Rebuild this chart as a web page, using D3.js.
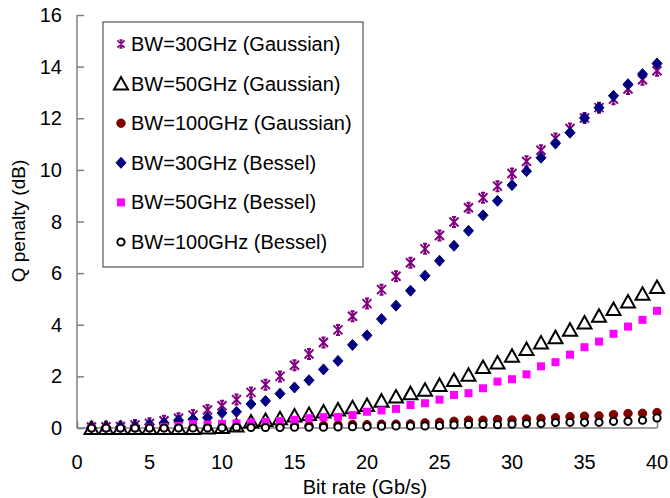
<!DOCTYPE html>
<html>
<head>
<meta charset="utf-8">
<script src="https://cdn.jsdelivr.net/npm/d3@7"></script>
<style>
  body { margin: 0; background: #fff; }
  text { font-family: Arial, "Liberation Sans", sans-serif; fill: #000; }
</style>
</head>
<body>
<svg id="chart" width="670" height="498"></svg>
<script>
// Bit rate values (Gb/s)
const bitRates = d3.range(1, 41);

// Q penalty (dB)
const gauss30 = [0.04, 0.05, 0.06, 0.12, 0.18, 0.28, 0.38, 0.5, 0.7, 0.86,
  1.1, 1.38, 1.68, 2.0, 2.43, 2.87, 3.31, 3.8, 4.33, 4.82,
  5.36, 5.88, 6.4, 6.94, 7.46, 7.98, 8.53, 8.92, 9.37, 9.86,
  10.33, 10.76, 11.22, 11.6, 12.01, 12.41, 12.74, 13.13, 13.49, 13.84];
const gauss50 = [0, 0, 0, 0, 0, 0, 0, 0, 0.02, 0.04,
  0.1, 0.25, 0.31, 0.38, 0.48, 0.54, 0.64, 0.72, 0.8, 0.89,
  1.06, 1.22, 1.35, 1.48, 1.67, 1.86, 2.06, 2.36, 2.54, 2.8,
  3.06, 3.31, 3.52, 3.81, 4.09, 4.35, 4.61, 4.9, 5.2, 5.46];
const gauss100 = [0, 0, 0, 0, 0, 0.01, 0.01, 0.02, 0.02, 0.03,
  0.04, 0.05, 0.06, 0.07, 0.08, 0.09, 0.1, 0.12, 0.14, 0.13,
  0.15, 0.15, 0.16, 0.2, 0.22, 0.26, 0.3, 0.3, 0.33, 0.31,
  0.35, 0.37, 0.4, 0.44, 0.46, 0.47, 0.52, 0.56, 0.57, 0.6];
const bessel30 = [0.02, 0.03, 0.05, 0.08, 0.14, 0.2, 0.3, 0.34, 0.4, 0.58,
  0.63, 0.93, 1.05, 1.33, 1.57, 1.85, 2.27, 2.6, 3.22, 3.59,
  4.22, 4.74, 5.32, 5.9, 6.48, 7.06, 7.64, 8.24, 8.8, 9.41,
  9.95, 10.47, 11.02, 11.44, 12.01, 12.41, 12.87, 13.32, 13.71, 14.12];
const bessel50 = [0, 0, 0, 0.01, 0.02, 0.04, 0.08, 0.15, 0.13, 0.16,
  0.18, 0.21, 0.23, 0.27, 0.32, 0.38, 0.42, 0.43, 0.5, 0.63,
  0.68, 0.74, 0.89, 0.96, 1.1, 1.28, 1.35, 1.54, 1.8, 1.89,
  2.08, 2.39, 2.55, 2.84, 3.13, 3.35, 3.65, 3.93, 4.19, 4.54];
const bessel100 = [0, 0, 0, 0, 0, 0, 0, 0, 0, 0.01,
  0.03, 0.02, 0.02, 0.02, 0.03, 0.03, 0.03, 0.04, 0.05, 0.05,
  0.07, 0.08, 0.08, 0.08, 0.09, 0.12, 0.14, 0.14, 0.13, 0.15,
  0.17, 0.17, 0.21, 0.22, 0.22, 0.22, 0.26, 0.26, 0.3, 0.39];

const seriesNames = [
  "BW=30GHz (Gaussian)", "BW=50GHz (Gaussian)", "BW=100GHz (Gaussian)",
  "BW=30GHz (Bessel)", "BW=50GHz (Bessel)", "BW=100GHz (Bessel)"
];
const xTicks = [0, 5, 10, 15, 20, 25, 30, 35, 40];
const yTicks = [0, 2, 4, 6, 8, 10, 12, 14, 16];

const svg = d3.select("#chart");
const margin = { top: 15, left: 77 };
const width = 580;
const height = 413;

const x = d3.scaleLinear().domain([0, 40]).range([margin.left, margin.left + width]);
const y = d3.scaleLinear().domain([0, 16]).range([margin.top + height, margin.top]);

// marker shapes (centred on 0,0)
const markers = {
  star: "M-4.5,-4.5L4.5,4.5M-4.5,4.5L4.5,-4.5M0,-5L0,5M-2,-5L2,-5M-2,5L2,5",
  triangle: "M0,-6.5L7,6L-7,6Z",
  diamond: "M0,-5.5L5,0L0,5.5L-5,0Z",
  square: "M-4,-4L4,-4L4,4L-4,4Z"
};

const series = [
  { name: seriesNames[0], values: gauss30, shape: "star", fill: "none", stroke: "#800080", sw: 2 },
  { name: seriesNames[1], values: gauss50, shape: "triangle", fill: "#fff", stroke: "#000", sw: 2 },
  { name: seriesNames[2], values: gauss100, shape: "circle", r: 4.2, fill: "#800000", stroke: "#800000", sw: 1 },
  { name: seriesNames[3], values: bessel30, shape: "diamond", fill: "#000080", stroke: "#000080", sw: 1 },
  { name: seriesNames[4], values: bessel50, shape: "square", fill: "#ff00ff", stroke: "none", sw: 0 },
  { name: seriesNames[5], values: bessel100, shape: "circle", r: 3.6, fill: "#fff", stroke: "#000", sw: 2 }
];

function drawMarker(g, s) {
  if (s.shape === "circle") {
    g.append("circle").attr("r", s.r)
      .attr("fill", s.fill).attr("stroke", s.stroke).attr("stroke-width", s.sw);
  } else {
    g.append("path").attr("d", markers[s.shape])
      .attr("fill", s.fill).attr("stroke", s.stroke).attr("stroke-width", s.sw)
      .attr("stroke-linejoin", "miter");
  }
}

// Axes (Excel style: grey line, ticks inside)
const axisColor = "#808080";
const yAxis = svg.append("g").attr("transform", `translate(${margin.left},0)`)
  .call(d3.axisRight(y).tickValues(yTicks).tickSize(7).tickFormat(""));
const xAxis = svg.append("g").attr("transform", `translate(0,${margin.top + height})`)
  .call(d3.axisTop(x).tickValues(xTicks).tickSize(7).tickFormat(""));
[xAxis, yAxis].forEach(a => {
  a.select(".domain").attr("stroke", axisColor).attr("stroke-width", 1.5);
  a.selectAll(".tick line").attr("stroke", axisColor).attr("stroke-width", 1.5);
});
yAxis.select(".domain").attr("d", `M0,${margin.top}V${margin.top + height}`);
xAxis.select(".domain").attr("d", `M${margin.left},0H${margin.left + width}`);

svg.append("g").selectAll("text")
  .data(yTicks)
  .join("text")
  .attr("x", 62)
  .attr("y", d => y(d) + 7)
  .attr("text-anchor", "end")
  .style("font-size", "20px")
  .text(d => d);

svg.append("g").selectAll("text")
  .data(xTicks)
  .join("text")
  .attr("x", d => x(d))
  .attr("y", 469)
  .attr("text-anchor", "middle")
  .style("font-size", "20px")
  .text(d => d);

svg.append("text")
  .attr("x", x(20) - 2)
  .attr("y", 494)
  .attr("text-anchor", "middle")
  .style("font-size", "20px")
  .text("Bit rate (Gb/s)");

svg.append("text")
  .attr("transform", "translate(25,221) rotate(-90)")
  .attr("text-anchor", "middle")
  .style("font-size", "19px")
  .text("Q penalty (dB)");

// Data points
series.forEach(s => {
  const g = svg.append("g");
  s.values.forEach((v, i) => {
    const m = g.append("g").attr("transform", `translate(${x(bitRates[i])},${y(v)})`);
    drawMarker(m, s);
  });
});

// Legend
const legend = svg.append("g");
legend.append("rect")
  .attr("x", 103).attr("y", 22)
  .attr("width", 260).attr("height", 245)
  .attr("fill", "#fff").attr("stroke", "#555").attr("stroke-width", 1.2);

series.forEach((s, i) => {
  const row = legend.append("g").attr("transform", `translate(121,${44 + i * 39.6})`);
  const m = row.append("g");
  if (s.shape === "star") m.attr("transform", "scale(0.8)");
  drawMarker(m, s);
  row.append("text")
    .attr("x", 10)
    .attr("y", 7)
    .style("font-size", "20px")
    .text(s.name);
});
</script>
</body>
</html>
